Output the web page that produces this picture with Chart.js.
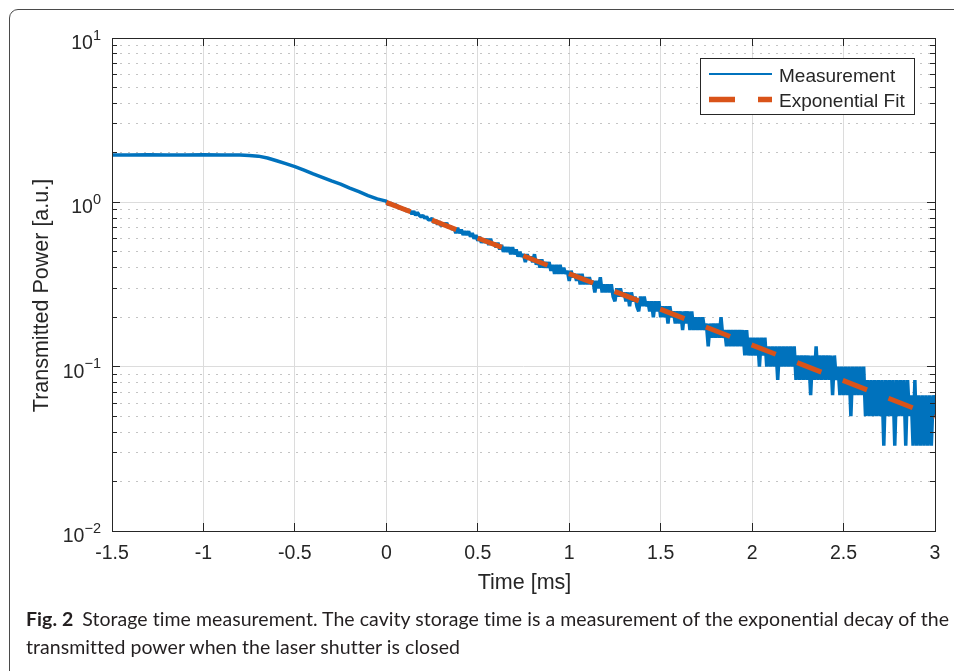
<!DOCTYPE html>
<html>
<head>
<meta charset="utf-8">
<title>Storage time measurement</title>
<script src="https://cdn.jsdelivr.net/npm/chart.js@4.4.0/dist/chart.umd.min.js"></script>
<style>
  html, body { margin: 0; padding: 0; background: #fff; }
  #page { position: relative; width: 954px; height: 671px; overflow: hidden; }
  #frame { position: absolute; left: 9px; top: 9px; width: 1000px; height: 720px;
           border: 1px solid #4a4a4a; border-radius: 9px; box-sizing: border-box; }
  #chart { position: absolute; left: 0; top: 0; }
  .caption { position: absolute; left: 26px; font-family: Lato, "Open Sans", sans-serif;
             font-size: 19.5px; line-height: 1.2; color: #231f20; white-space: nowrap;
             letter-spacing: 0.05px; }
  .caption b { font-weight: 700; margin-right: 4px; }
</style>
</head>
<body>
<div id="page">
  <div id="frame"></div>
  <canvas id="chart" width="954" height="671"></canvas>
  <div class="caption" style="top:607px"><b>Fig. 2</b> Storage time measurement. The cavity storage time is a measurement of the exponential decay of the</div>
  <div class="caption" style="top:635px">transmitted power when the laser shutter is closed</div>
</div>
<script>
// ---- data ----
// before the shutter closes (plateau and roll-off), time in ms
var preTimes  = [-1.5, -1.4, -1.3, -1.2, -1.1, -1.0, -0.9, -0.8, -0.75, -0.7, -0.65, -0.6,
                 -0.55, -0.5, -0.45, -0.4, -0.35, -0.3, -0.25, -0.2, -0.15, -0.1, -0.05];
var preValues = [1.94, 1.94, 1.95, 1.94, 1.94, 1.95, 1.94, 1.94, 1.93, 1.91, 1.86, 1.79,
                 1.72, 1.65, 1.57, 1.49, 1.42, 1.35, 1.29, 1.22, 1.16, 1.10, 1.05];

// decay part, sampled every 0.01 ms from t = 0 (quantised, noisy)
var decayStart = 0;
var decayStep = 0.01;
var decayValues = [
  1.017, 0.967, 0.983, 0.983, 0.950, 0.967, 0.950, 0.917, 0.933, 0.900,
  0.917, 0.883, 0.900, 0.883, 0.850, 0.883, 0.833, 0.867, 0.833, 0.817,
  0.833, 0.800, 0.817, 0.783, 0.783, 0.800, 0.750, 0.783, 0.733, 0.767,
  0.717, 0.750, 0.717, 0.750, 0.700, 0.717, 0.683, 0.700, 0.650, 0.700,
  0.650, 0.683, 0.633, 0.667, 0.633, 0.667, 0.617, 0.650, 0.600, 0.633,
  0.583, 0.617, 0.567, 0.600, 0.567, 0.600, 0.550, 0.600, 0.550, 0.567,
  0.533, 0.567, 0.517, 0.550, 0.500, 0.533, 0.500, 0.533, 0.483, 0.533,
  0.483, 0.517, 0.467, 0.500, 0.467, 0.483, 0.433, 0.483, 0.450, 0.467,
  0.433, 0.483, 0.417, 0.450, 0.400, 0.450, 0.400, 0.433, 0.400, 0.433,
  0.383, 0.417, 0.367, 0.417, 0.367, 0.417, 0.367, 0.400, 0.367, 0.383,
  0.333, 0.383, 0.350, 0.367, 0.333, 0.367, 0.317, 0.367, 0.317, 0.350,
  0.317, 0.350, 0.317, 0.333, 0.283, 0.333, 0.300, 0.350, 0.283, 0.317,
  0.283, 0.317, 0.283, 0.317, 0.267, 0.250, 0.300, 0.267, 0.300, 0.267,
  0.283, 0.250, 0.283, 0.233, 0.283, 0.250, 0.267, 0.233, 0.217, 0.267,
  0.233, 0.267, 0.233, 0.250, 0.217, 0.250, 0.200, 0.250, 0.217, 0.250,
  0.200, 0.233, 0.200, 0.233, 0.183, 0.233, 0.200, 0.217, 0.183, 0.217,
  0.183, 0.217, 0.167, 0.217, 0.183, 0.217, 0.167, 0.217, 0.167, 0.200,
  0.167, 0.200, 0.167, 0.200, 0.167, 0.183, 0.133, 0.183, 0.150, 0.183,
  0.150, 0.183, 0.150, 0.200, 0.150, 0.167, 0.133, 0.167, 0.133, 0.167,
  0.133, 0.167, 0.133, 0.167, 0.133, 0.167, 0.117, 0.167, 0.117, 0.150,
  0.117, 0.150, 0.117, 0.150, 0.100, 0.150, 0.117, 0.150, 0.100, 0.133,
  0.100, 0.133, 0.100, 0.133, 0.083, 0.133, 0.100, 0.133, 0.100, 0.133,
  0.100, 0.133, 0.100, 0.133, 0.083, 0.117, 0.083, 0.117, 0.083, 0.117,
  0.083, 0.117, 0.067, 0.117, 0.083, 0.133, 0.083, 0.117, 0.083, 0.117,
  0.083, 0.117, 0.083, 0.117, 0.067, 0.117, 0.083, 0.100, 0.067, 0.100,
  0.067, 0.100, 0.067, 0.100, 0.050, 0.100, 0.067, 0.100, 0.067, 0.100,
  0.067, 0.100, 0.050, 0.083, 0.050, 0.083, 0.050, 0.083, 0.050, 0.083,
  0.050, 0.083, 0.033, 0.083, 0.050, 0.083, 0.050, 0.083, 0.033, 0.083,
  0.050, 0.083, 0.050, 0.083, 0.033, 0.083, 0.050, 0.067, 0.033, 0.083,
  0.033, 0.067, 0.033, 0.067, 0.033, 0.067, 0.033, 0.067, 0.033, 0.067,
  0.050
];

// exponential fit, end points of the dashed line
var fitTimes  = [0, 3];
var fitValues = [1.0, 0.0498];

// axes
var xTicks = [-1.5, -1, -0.5, 0, 0.5, 1, 1.5, 2, 2.5, 3];
var yGrid = [0.01, 0.02, 0.03, 0.04, 0.05, 0.06, 0.07, 0.08, 0.09,
             0.1, 0.2, 0.3, 0.4, 0.5, 0.6, 0.7, 0.8, 0.9,
             1, 2, 3, 4, 5, 6, 7, 8, 9, 10];
var yLabelValues = [10, 1, 0.1, 0.01];
var yLabelExps = ['1', '0', '\u22121', '\u22122'];

var xTitle = 'Time [ms]';
var yTitle = 'Transmitted Power [a.u.]';
var seriesNames = ['Measurement', 'Exponential Fit'];

// ---- styling ----
var axisColor = '#262626';
var blue = '#0072BD';
var orange = '#D95319';
var fontFam = "'Liberation Sans', Arial, Helvetica, sans-serif";

function isDecade(v) {
  var l = Math.log10(v);
  return Math.abs(l - Math.round(l)) < 1e-9;
}

var measPoints = [];
for (var i = 0; i < preTimes.length; i++) {
  measPoints.push({x: preTimes[i], y: preValues[i]});
}
for (var j = 0; j < decayValues.length; j++) {
  measPoints.push({x: decayStart + j * decayStep, y: decayValues[j]});
}
var fitPoints = fitTimes.map(function (t, k) { return {x: t, y: fitValues[k]}; });

function alignPx(p) { return Math.round(p - 0.5) + 0.5; }

// box, inner ticks, y labels with exponents, axis titles and legend
var figureDecor = {
  id: 'figureDecor',
  afterDatasetsDraw: function (chart) {
    var ctx = chart.ctx, a = chart.chartArea, xs = chart.scales.x, ys = chart.scales.y;
    ctx.save();
    ctx.strokeStyle = axisColor;
    ctx.lineWidth = 1;
    ctx.beginPath();
    xTicks.forEach(function (v) {
      var px = alignPx(xs.getPixelForValue(v));
      ctx.moveTo(px, a.bottom); ctx.lineTo(px, a.bottom - 8);
      ctx.moveTo(px, a.top); ctx.lineTo(px, a.top + 8);
    });
    yGrid.forEach(function (v) {
      var len = isDecade(v) ? 8 : 5;
      var py = alignPx(ys.getPixelForValue(v));
      ctx.moveTo(a.left, py); ctx.lineTo(a.left + len, py);
      ctx.moveTo(a.right, py); ctx.lineTo(a.right - len, py);
    });
    ctx.stroke();
    ctx.strokeRect(alignPx(a.left), alignPx(a.top),
                   Math.round(a.right - a.left), Math.round(a.bottom - a.top));
    ctx.restore();
  },
  afterDraw: function (chart) {
    var ctx = chart.ctx, a = chart.chartArea, ys = chart.scales.y;
    ctx.save();
    ctx.fillStyle = axisColor;

    // y tick labels: 10 with a raised exponent
    yLabelValues.forEach(function (v, k) {
      var py = ys.getPixelForValue(v);
      ctx.font = '14.5px ' + fontFam;
      var ew = ctx.measureText(yLabelExps[k]).width;
      ctx.font = '19.5px ' + fontFam;
      var bw = ctx.measureText('10').width;
      var right = a.left - 11;
      ctx.textAlign = 'left';
      ctx.textBaseline = 'alphabetic';
      ctx.fillText('10', right - ew - bw, py + 11);
      ctx.font = '14.5px ' + fontFam;
      ctx.fillText(yLabelExps[k], right - ew, py + 1.5);
    });

    // axis titles
    ctx.font = '21.5px ' + fontFam;
    ctx.textAlign = 'center';
    ctx.textBaseline = 'alphabetic';
    ctx.fillText(xTitle, (a.left + a.right) / 2 + 1, a.bottom + 58);
    ctx.save();
    ctx.translate(48, (a.top + a.bottom) / 2 + 11);
    ctx.rotate(-Math.PI / 2);
    ctx.fillText(yTitle, 0, 0);
    ctx.restore();

    // legend
    var lx = a.right - 235, ly = a.top + 20, lw = 214, lh = 56;
    ctx.fillStyle = '#fff';
    ctx.fillRect(lx, ly, lw, lh);
    ctx.strokeStyle = axisColor;
    ctx.lineWidth = 1;
    ctx.strokeRect(lx + 0.5, ly + 0.5, lw, lh);
    var rows = [
      {ds: chart.data.datasets[1], y: ly + 16, w: 2},
      {ds: chart.data.datasets[0], y: ly + 41.5, w: 5.5}
    ];
    rows.forEach(function (r) {
      ctx.save();
      ctx.strokeStyle = r.ds.borderColor;
      ctx.lineWidth = r.w;
      ctx.lineCap = 'butt';
      ctx.setLineDash(r.ds.borderDash || []);
      ctx.beginPath();
      ctx.moveTo(lx + 9, r.y);
      ctx.lineTo(lx + 72, r.y);
      ctx.stroke();
      ctx.restore();
      ctx.fillStyle = axisColor;
      ctx.font = '19px ' + fontFam;
      ctx.textAlign = 'left';
      ctx.textBaseline = 'alphabetic';
      ctx.fillText(r.ds.label, lx + 79, r.y + 7.5);
    });
    ctx.restore();
  }
};

new Chart(document.getElementById('chart'), {
  type: 'line',
  data: {
    datasets: [
      {
        label: seriesNames[1],
        data: fitPoints,
        borderColor: orange,
        borderWidth: 5,
        borderDash: [26, 23],
        borderCapStyle: 'butt',
        pointRadius: 0,
        fill: false,
        order: 0
      },
      {
        label: seriesNames[0],
        data: measPoints,
        borderColor: blue,
        borderWidth: 3.5,
        borderJoinStyle: 'bevel',
        pointRadius: 0,
        fill: false,
        tension: 0,
        order: 1
      }
    ]
  },
  options: {
    responsive: false,
    maintainAspectRatio: false,
    animation: false,
    events: [],
    layout: { padding: { left: 0, top: 38, right: 19, bottom: 0 } },
    plugins: { legend: { display: false }, tooltip: { enabled: false } },
    scales: {
      x: {
        type: 'linear',
        min: -1.5,
        max: 3,
        afterBuildTicks: function (scale) {
          scale.ticks = xTicks.map(function (v) { return {value: v}; });
        },
        afterFit: function (scale) { scale.height = 140; },
        ticks: {
          autoSkip: false,
          maxRotation: 0,
          padding: 11,
          color: axisColor,
          font: { family: fontFam, size: 19.5 },
          callback: function (v) { return String(v); }
        },
        grid: { color: '#dcdcdc', lineWidth: 1, drawTicks: false },
        border: { display: false }
      },
      y: {
        type: 'logarithmic',
        min: 0.01,
        max: 10,
        afterBuildTicks: function (scale) {
          scale.ticks = yGrid.map(function (v) { return {value: v}; });
        },
        afterFit: function (scale) { scale.width = 112; },
        ticks: { display: false },
        grid: {
          lineWidth: 1,
          drawTicks: false,
          color: function (c) {
            return (c.tick && !isDecade(c.tick.value)) ? '#c4c4c4' : '#dcdcdc';
          }
        },
        border: {
          display: false,
          dash: function (c) {
            return (c.tick && !isDecade(c.tick.value)) ? [2, 6] : [];
          }
        }
      }
    }
  },
  plugins: [figureDecor]
});
</script>
</body>
</html>
